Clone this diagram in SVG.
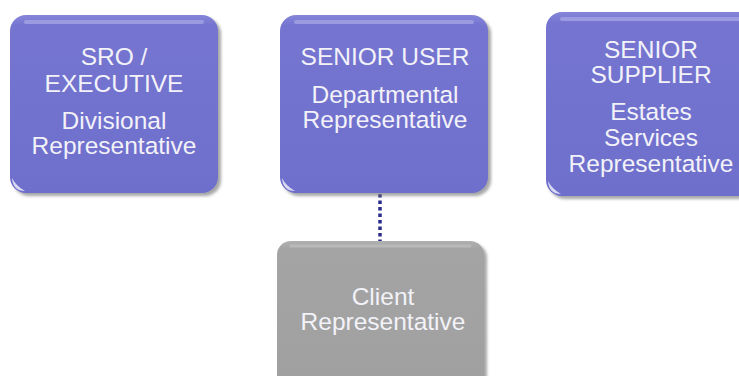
<svg xmlns="http://www.w3.org/2000/svg" width="739" height="376" viewBox="0 0 739 376">
<defs>
<filter id="sh" x="-10%" y="-10%" width="125%" height="125%">
<feDropShadow dx="3" dy="3" stdDeviation="1.5" flood-color="#808080" flood-opacity="0.7"/>
</filter>
<linearGradient id="gp" x1="0" y1="0" x2="0" y2="1">
<stop offset="0" stop-color="#8585D8"/>
<stop offset="0.06" stop-color="#7575D1"/>
<stop offset="1" stop-color="#6E6ECC"/>
</linearGradient>
<linearGradient id="gg" x1="0" y1="0" x2="0" y2="1">
<stop offset="0" stop-color="#B0B0B0"/>
<stop offset="0.05" stop-color="#A4A4A4"/>
<stop offset="1" stop-color="#A0A0A0"/>
</linearGradient>
</defs>
<style>
.p{fill:url(#gp);filter:url(#sh)}
.g{fill:url(#gg);filter:url(#sh)}
.hl{stroke:#A9A9E8;stroke-width:4;stroke-linecap:round;opacity:0.7}
.hg{stroke:#C0C0C0;stroke-width:3;stroke-linecap:round;opacity:0.7}
.dot{fill:#E4E4F6;opacity:0.9}
text{font-family:"Liberation Sans",Arial,sans-serif;font-size:24.5px;fill:#F2F2F8;text-anchor:middle}
.conn{stroke:#2B2B8C;stroke-width:3.5;stroke-dasharray:3.5 3;fill:none}
</style>
<g id="connectors">
<line class="conn" x1="380" y1="194" x2="380" y2="241"/>
</g>
<g id="sro">
<rect class="p" x="10" y="15" width="208" height="178" rx="16"/>
<line class="hl" x1="26" y1="22" x2="202" y2="22"/>
<path class="dot" d="M12,178 Q13,191 25,191 Q16,186 12,178 Z"/>
<text x="114" y="65">SRO /</text>
<text x="114" y="92">EXECUTIVE</text>
<text x="114" y="129">Divisional</text>
<text x="114" y="154">Representative</text>
</g>
<g id="senior-user">
<rect class="p" x="280" y="15" width="208" height="178" rx="16"/>
<line class="hl" x1="296" y1="22" x2="472" y2="22"/>
<path class="dot" d="M282,178 Q283,191 295,191 Q286,186 282,178 Z"/>
<text x="385" y="65">SENIOR USER</text>
<text x="385" y="103">Departmental</text>
<text x="385" y="128">Representative</text>
</g>
<g id="senior-supplier">
<rect class="p" x="546" y="12" width="210" height="184" rx="16"/>
<line class="hl" x1="562" y1="19" x2="740" y2="19"/>
<path class="dot" d="M548,181 Q549,194 561,194 Q552,189 548,181 Z"/>
<text x="651" y="58">SENIOR</text>
<text x="651" y="83">SUPPLIER</text>
<text x="651" y="120">Estates</text>
<text x="651" y="146">Services</text>
<text x="651" y="172">Representative</text>
</g>
<g id="client">
<rect class="g" x="277" y="241" width="207" height="150" rx="14"/>
<line class="hg" x1="291" y1="246" x2="470" y2="246"/>
<text x="383" y="305">Client</text>
<text x="383" y="330">Representative</text>
</g>
</svg>
